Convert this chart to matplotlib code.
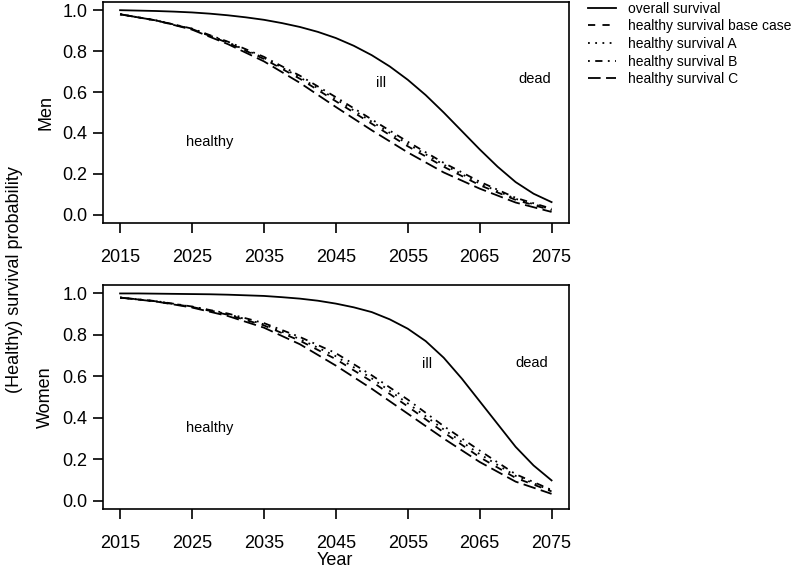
import matplotlib
matplotlib.use("Agg")
import matplotlib.pyplot as plt

plt.rcParams['font.family'] = ['Liberation Sans', 'DejaVu Sans']

# Data
years_fine = [2015, 2017.5, 2020, 2022.5, 2025, 2027.5, 2030, 2032.5, 2035, 2037.5, 2040,
              2042.5, 2045, 2047.5, 2050, 2052.5, 2055, 2057.5, 2060, 2062.5, 2065,
              2067.5, 2070, 2072.5, 2075]
years = [2015, 2020, 2025, 2030, 2035, 2040, 2045, 2050, 2055, 2060, 2065, 2070, 2075]

men_overall = [1.0, 0.998, 0.996, 0.993, 0.989, 0.983, 0.975, 0.965, 0.953, 0.937, 0.918,
               0.894, 0.864, 0.826, 0.78, 0.725, 0.66, 0.585, 0.50, 0.41, 0.32,
               0.235, 0.16, 0.103, 0.062]
men_base    = [0.98, 0.95, 0.908, 0.84, 0.762, 0.665, 0.555, 0.445, 0.335, 0.235, 0.145, 0.073, 0.022]
men_a       = [0.98, 0.95, 0.909, 0.843, 0.767, 0.672, 0.565, 0.455, 0.346, 0.245, 0.153, 0.078, 0.026]
men_b       = [0.98, 0.95, 0.910, 0.846, 0.772, 0.680, 0.575, 0.466, 0.357, 0.254, 0.162, 0.083, 0.030]
men_c       = [0.98, 0.95, 0.905, 0.834, 0.750, 0.645, 0.527, 0.413, 0.305, 0.207, 0.128, 0.060, 0.014]

women_overall = [1.0, 1.0, 0.999, 0.998, 0.997, 0.996, 0.994, 0.991, 0.988, 0.982, 0.975,
                 0.965, 0.951, 0.933, 0.91, 0.875, 0.83, 0.77, 0.69, 0.59, 0.48,
                 0.37, 0.26, 0.17, 0.098]
women_base    = [0.98, 0.962, 0.935, 0.897, 0.846, 0.772, 0.683, 0.575, 0.455, 0.33, 0.21, 0.11, 0.045]
women_a       = [0.98, 0.962, 0.936, 0.900, 0.851, 0.780, 0.697, 0.590, 0.470, 0.344, 0.225, 0.120, 0.048]
women_b       = [0.98, 0.963, 0.937, 0.903, 0.857, 0.790, 0.712, 0.605, 0.488, 0.360, 0.242, 0.128, 0.052]
women_c       = [0.98, 0.961, 0.932, 0.891, 0.835, 0.755, 0.652, 0.540, 0.420, 0.300, 0.187, 0.092, 0.033]

xticks = [2015, 2025, 2035, 2045, 2055, 2065, 2075]
yticks = [0.0, 0.2, 0.4, 0.6, 0.8, 1.0]

legend_labels = ["overall survival", "healthy survival base case",
                 "healthy survival A", "healthy survival B", "healthy survival C"]
styles = ['-', (0, (4, 4)), (0, (1, 3)), (0, (1, 3, 4, 3)), (0, (7, 3))]

fig = plt.figure(figsize=(7.97, 5.71), dpi=100)
ax1 = fig.add_axes([0.129, 0.6095, 0.5847, 0.387])
ax2 = fig.add_axes([0.129, 0.1086, 0.5847, 0.392])

panels = [
    (ax1, "Men", men_overall, [men_base, men_a, men_b, men_c],
     [(2027.4, 0.354), (2051.3, 0.644), (2072.7, 0.663)]),
    (ax2, "Women", women_overall, [women_base, women_a, women_b, women_c],
     [(2027.4, 0.351), (2057.7, 0.658), (2072.3, 0.663)]),
]

for ax, name, overall, healthy, lab_pos in panels:
    ax.plot(years_fine, overall, color='black', lw=1.3, linestyle=styles[0],
            label=legend_labels[0])
    for s, ls, lab in zip(healthy, styles[1:], legend_labels[1:]):
        ax.plot(years, s, color='black', lw=1.3, linestyle=ls, label=lab)
    for (x, y), t in zip(lab_pos, ["healthy", "ill", "dead"]):
        ax.text(x, y, t, ha='center', va='center', fontsize=10.5)
    ax.set_xlim(2012.6, 2077.4)
    ax.set_ylim(-0.04, 1.04)
    ax.set_xticks(xticks)
    ax.set_yticks(yticks)
    ax.set_yticklabels([f"{v:.1f}" for v in yticks])
    ax.tick_params(direction='out', length=7, width=1.2, labelsize=13, pad=4)
    ax.tick_params(axis='x', pad=12)
    for sp in ax.spines.values():
        sp.set_linewidth(1.2)
    ax.set_ylabel(name, fontsize=13, labelpad=6)

# x label placed in figure coords so it stays inside the canvas
fig.text(0.42, 0.019, "Year", ha='center', va='center', fontsize=13)
fig.text(0.018, 0.51, "(Healthy) survival probability", rotation=90,
         ha='center', va='center', fontsize=13)

handles, labels = ax1.get_legend_handles_labels()
fig.legend(handles, labels, loc='upper left', bbox_to_anchor=(0.738, 0.997),
           frameon=False, fontsize=10, handlelength=2.0, handletextpad=0.9,
           labelspacing=0.26, borderpad=0, borderaxespad=0)

fig.savefig("out.png", dpi=100)
